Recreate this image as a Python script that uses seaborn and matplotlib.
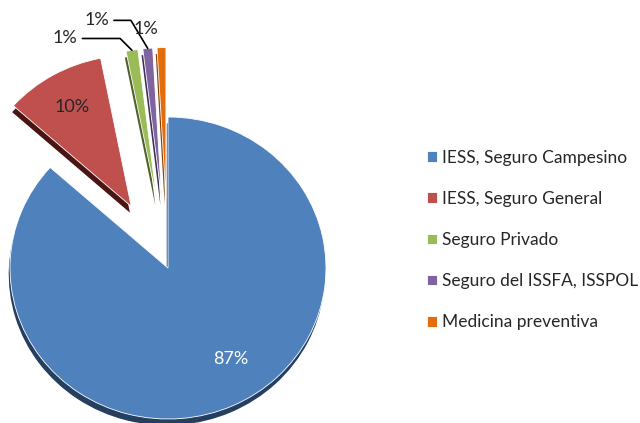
import matplotlib
matplotlib.use('Agg')
import numpy as np
import matplotlib.pyplot as plt
import seaborn as sns

sns.set_style('white')
plt.rcParams['font.family'] = ['Lato', 'DejaVu Sans']

categories = ['IESS, Seguro Campesino', 'IESS, Seguro General', 'Seguro Privado',
              'Seguro del ISSFA, ISSPOL', 'Medicina preventiva']
values = [86.6, 10.3, 1.2, 1.0, 0.9]
colors = ['#4F81BD', '#C0504D', '#9BBB59', '#8064A2', '#E46C0A']
side_colors = ['#243F60', '#4A1614', '#4F6228', '#3F3151', '#8A4206']
explode = [0, 0.47, 0.46, 0.46, 0.46]

# pixel scale of the tilted pie (wider than tall)
sx, sy = 158, 151
cx_px, cy_px = 168, 268

fig = plt.figure(figsize=(6.4, 4.23), dpi=100)
ax = fig.add_axes([0, 0, 1, 1])

# side face of the "3d" pie
ax.pie(values, explode=explode, colors=side_colors, startangle=90,
       counterclock=False, center=(-0.008, -0.042),
       wedgeprops=dict(linewidth=0))

wedges, texts, autotexts = ax.pie(
    values, explode=explode, colors=colors, startangle=90, counterclock=False,
    autopct=lambda p: f'{p:.0f}%' if p > 5 else '', pctdistance=0.76,
    wedgeprops=dict(linewidth=0.6, edgecolor='white'),
    textprops=dict(fontsize=13))

autotexts[0].set_color('white')
autotexts[0].set_position((0.40, -0.6))

# small slices: labels outside with leader lines
total = sum(values)
pct = [f'{v / total * 100:.0f}%' for v in values]
label_pos = {2: (-0.65, 1.52), 3: (-0.45, 1.64), 4: (-0.14, 1.58)}
leader = {2: -45, 3: 121}
for i, (lx, ly) in label_pos.items():
    w = wedges[i]
    mid = np.deg2rad((w.theta1 + w.theta2) / 2)
    wx, wy = w.center
    tip = (wx + w.r * np.cos(mid), wy + w.r * np.sin(mid))
    if i in leader:
        ax.annotate(pct[i], xy=tip, xytext=(lx, ly), ha='center', va='center',
                    fontsize=13,
                    arrowprops=dict(arrowstyle='-', color='black', lw=1.2,
                                    shrinkA=1, shrinkB=0,
                                    connectionstyle=f'angle,angleA=0,angleB={leader[i]},rad=0'))
    else:
        ax.text(lx, ly, pct[i], ha='center', va='center', fontsize=13)

# squash the pie like the tilted original
ax.set_aspect('auto')
ax.set_xlim(-cx_px / sx, (640 - cx_px) / sx)
ax.set_ylim(-(423 - cy_px) / sy, cy_px / sy)
ax.axis('off')

ax.legend(wedges, categories, loc='center left', frameon=False,
          bbox_to_anchor=(427 / 640, 1 - 240 / 423), bbox_transform=fig.transFigure,
          fontsize=12.5, handlelength=0.57, handleheight=0.57, handletextpad=0.3,
          labelspacing=1.45, borderpad=0, borderaxespad=0)

fig.savefig('out.png', dpi=100)
